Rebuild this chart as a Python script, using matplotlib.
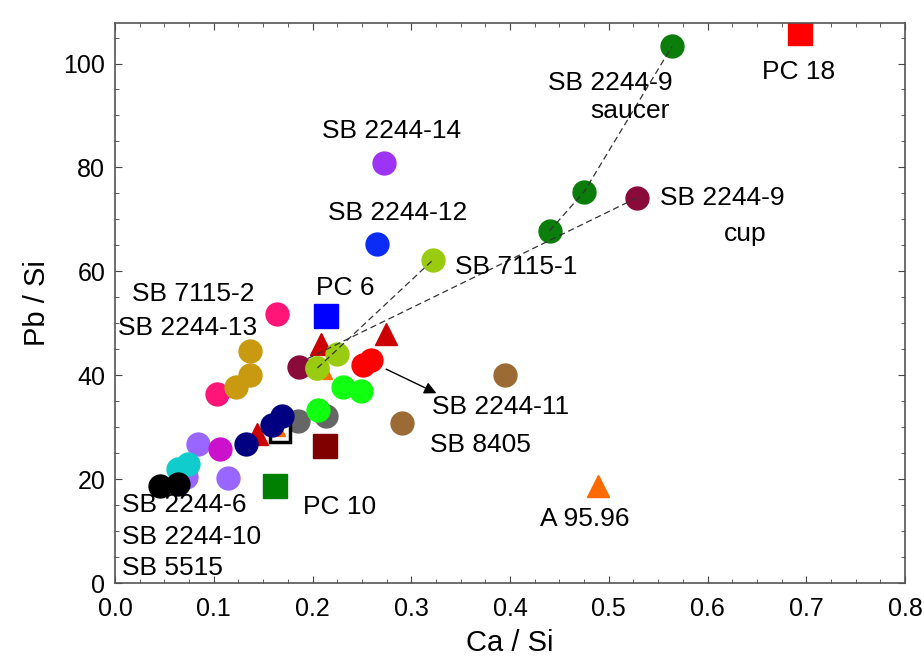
import numpy as np
import matplotlib.pyplot as plt
from matplotlib.ticker import MultipleLocator

plt.rcParams['font.family'] = ['Liberation Sans', 'DejaVu Sans']

# Ca / Si and Pb / Si values, one pair of lists per group
saucer_ca = [0.440, 0.475, 0.564]
saucer_pb = [67.8, 75.3, 103.3]
cup_ca = [0.529]
cup_pb = [74.2]
pc18_ca = [0.694]
pc18_pb = [105.8]
purple_ca = [0.272]
purple_pb = [80.9]
blue_ca = [0.265]
blue_pb = [65.3]
yg_ca = [0.322, 0.225, 0.205]
yg_pb = [62.2, 44.1, 41.4]
pc6_ca = [0.214]
pc6_pb = [51.4]
pink_ca = [0.164, 0.103]
pink_pb = [51.8, 36.4]
gold_ca = [0.137, 0.137, 0.122]
gold_pb = [44.7, 40.1, 37.8]
redtri_ca = [0.209, 0.274, 0.1435]
redtri_pb = [46.0, 48.0, 28.7]
maroon_ca = [0.186]
maroon_pb = [41.5]
red_ca = [0.251, 0.259]
red_pb = [42.0, 43.0]
lime_ca = [0.231, 0.249, 0.206]
lime_pb = [37.8, 37.0, 33.3]
gray_ca = [0.214, 0.185]
gray_pb = [32.2, 31.2]
navy_ca = [0.169, 0.159, 0.133]
navy_pb = [32.2, 30.4, 26.7]
blksq_ca = [0.167]
blksq_pb = [29.0]
dkred_ca = [0.213]
dkred_pb = [26.4]
magenta_ca = [0.106]
magenta_pb = [25.8]
lav_ca = [0.084, 0.114, 0.072]
lav_pb = [26.7, 20.3, 20.5]
cyan_ca = [0.074, 0.064]
cyan_pb = [22.9, 22.0]
black_ca = [0.046, 0.064]
black_pb = [18.6, 19.1]
pc10_ca = [0.162]
pc10_pb = [18.6]
brown_ca = [0.395, 0.291]
brown_pb = [40.1, 30.8]
a9596_ca = [0.489]
a9596_pb = [18.7]
smallor_ca = [0.215, 0.167]
smallor_pb = [40.3, 29.3]

fig = plt.figure(figsize=(9.24, 6.68), dpi=100)
ax = fig.add_axes([0.1245, 0.1272, 0.855, 0.8384])

ms = 16.5
def dots(x, y, c, m='o', size=ms, **kw):
    ax.plot(x, y, m, color=c, mec=c, ms=size, ls='none', **kw)

dots(brown_ca, brown_pb, '#9c6b35')
dots(saucer_ca, saucer_pb, '#0a7d0a')
dots(cup_ca, cup_pb, '#8a0a3a')
dots(purple_ca, purple_pb, '#9d33f5')
dots(blue_ca, blue_pb, '#0a2cf5')
dots(pc18_ca, pc18_pb, '#ff0000', 's', 17.5)
dots(pc6_ca, pc6_pb, '#0000ff', 's', 17.5)
dots(pink_ca, pink_pb, '#ff1477')
dots(gold_ca, gold_pb, '#c99a0f')
dots(redtri_ca, redtri_pb, '#cc0000', '^', 16)
dots(maroon_ca, maroon_pb, '#8a0a3a')
dots(yg_ca, yg_pb, '#99cc11')
dots(smallor_ca[:1], smallor_pb[:1], '#ff6a00', '^', 7)
dots(yg_ca[2:], yg_pb[2:], '#99cc11')
dots(red_ca, red_pb, '#ff0000')
dots(gray_ca, gray_pb, '#666666')
dots(lime_ca, lime_pb, '#11ff11')
ax.plot(blksq_ca, blksq_pb, 's', mfc='white', mec='black', mew=2.5, ms=15)
dots(smallor_ca[1:], smallor_pb[1:], '#ff6a00', '^', 7)
dots(navy_ca, navy_pb, '#000080')
dots(dkred_ca, dkred_pb, '#800000', 's', 17.5)
dots(lav_ca, lav_pb, '#9966ff')
dots(magenta_ca, magenta_pb, '#cc11cc')
dots(cyan_ca, cyan_pb, '#11cccc')
dots(black_ca, black_pb, '#000000')
dots(pc10_ca, pc10_pb, '#008000', 's', 17.5)
dots(a9596_ca, a9596_pb, '#ff6a00', '^', 16)

# dashed trend lines
dash = dict(color='#333333', lw=0.9, ls=(0, (5, 3)))
ax.plot(saucer_ca, saucer_pb, **dash)
ax.plot([yg_ca[2], yg_ca[0]], [yg_pb[2], yg_pb[0]], **dash)
ax.plot([0.195, cup_ca[0]], [43.2, cup_pb[0]], **dash)

ax.annotate('', xy=(0.328, 36.3), xytext=(0.272, 41.4),
            arrowprops=dict(arrowstyle='-|>', color='black', lw=1,
                            mutation_scale=18))

fs = 19
labels = [
    ('PC 18', 0.655, 98.3), ('SB 2244-9', 0.4385, 96.3),
    ('saucer', 0.481, 90.8), ('SB 2244-14', 0.2096, 87.1),
    ('SB 2244-12', 0.2157, 71.3), ('SB 2244-9', 0.552, 74.2),
    ('cup', 0.617, 67.1), ('SB 7115-1', 0.344, 60.9),
    ('SB 7115-2', 0.0172, 55.7), ('SB 2244-13', 0.003, 49.1),
    ('PC 6', 0.2035, 56.8), ('SB 2244-11', 0.321, 33.9),
    ('SB 8405', 0.319, 26.6), ('A 95.96', 0.430, 12.3),
    ('PC 10', 0.190, 14.6), ('SB 2244-6', 0.007, 15.0),
    ('SB 2244-10', 0.007, 8.9), ('SB 5515', 0.007, 2.9),
]
for txt, tx, ty in labels:
    ax.text(tx, ty, txt, fontsize=fs, ha='left', va='center')

ax.set_xlim(0, 0.8)
ax.set_ylim(0, 107.8)
ax.xaxis.set_major_locator(MultipleLocator(0.1))
ax.xaxis.set_minor_locator(MultipleLocator(0.025))
ax.yaxis.set_major_locator(MultipleLocator(20))
ax.yaxis.set_minor_locator(MultipleLocator(5))
ax.xaxis.set_major_formatter(plt.FuncFormatter(lambda v, p: f'{v:.1f}'))
ax.tick_params(which='both', direction='in', top=True, right=True,
               labelsize=18, color='#444444')
ax.tick_params(axis='x', pad=10)
ax.tick_params(axis='y', pad=7)
ax.tick_params(which='major', length=5)
ax.tick_params(which='minor', length=3)
for s in ax.spines.values():
    s.set_color('#555555')
    s.set_linewidth(1.2)

ax.set_xlabel('Ca / Si', fontsize=21, labelpad=6)
ax.set_ylabel('Pb / Si', fontsize=21, labelpad=9)

fig.savefig('out.png', dpi=100)
